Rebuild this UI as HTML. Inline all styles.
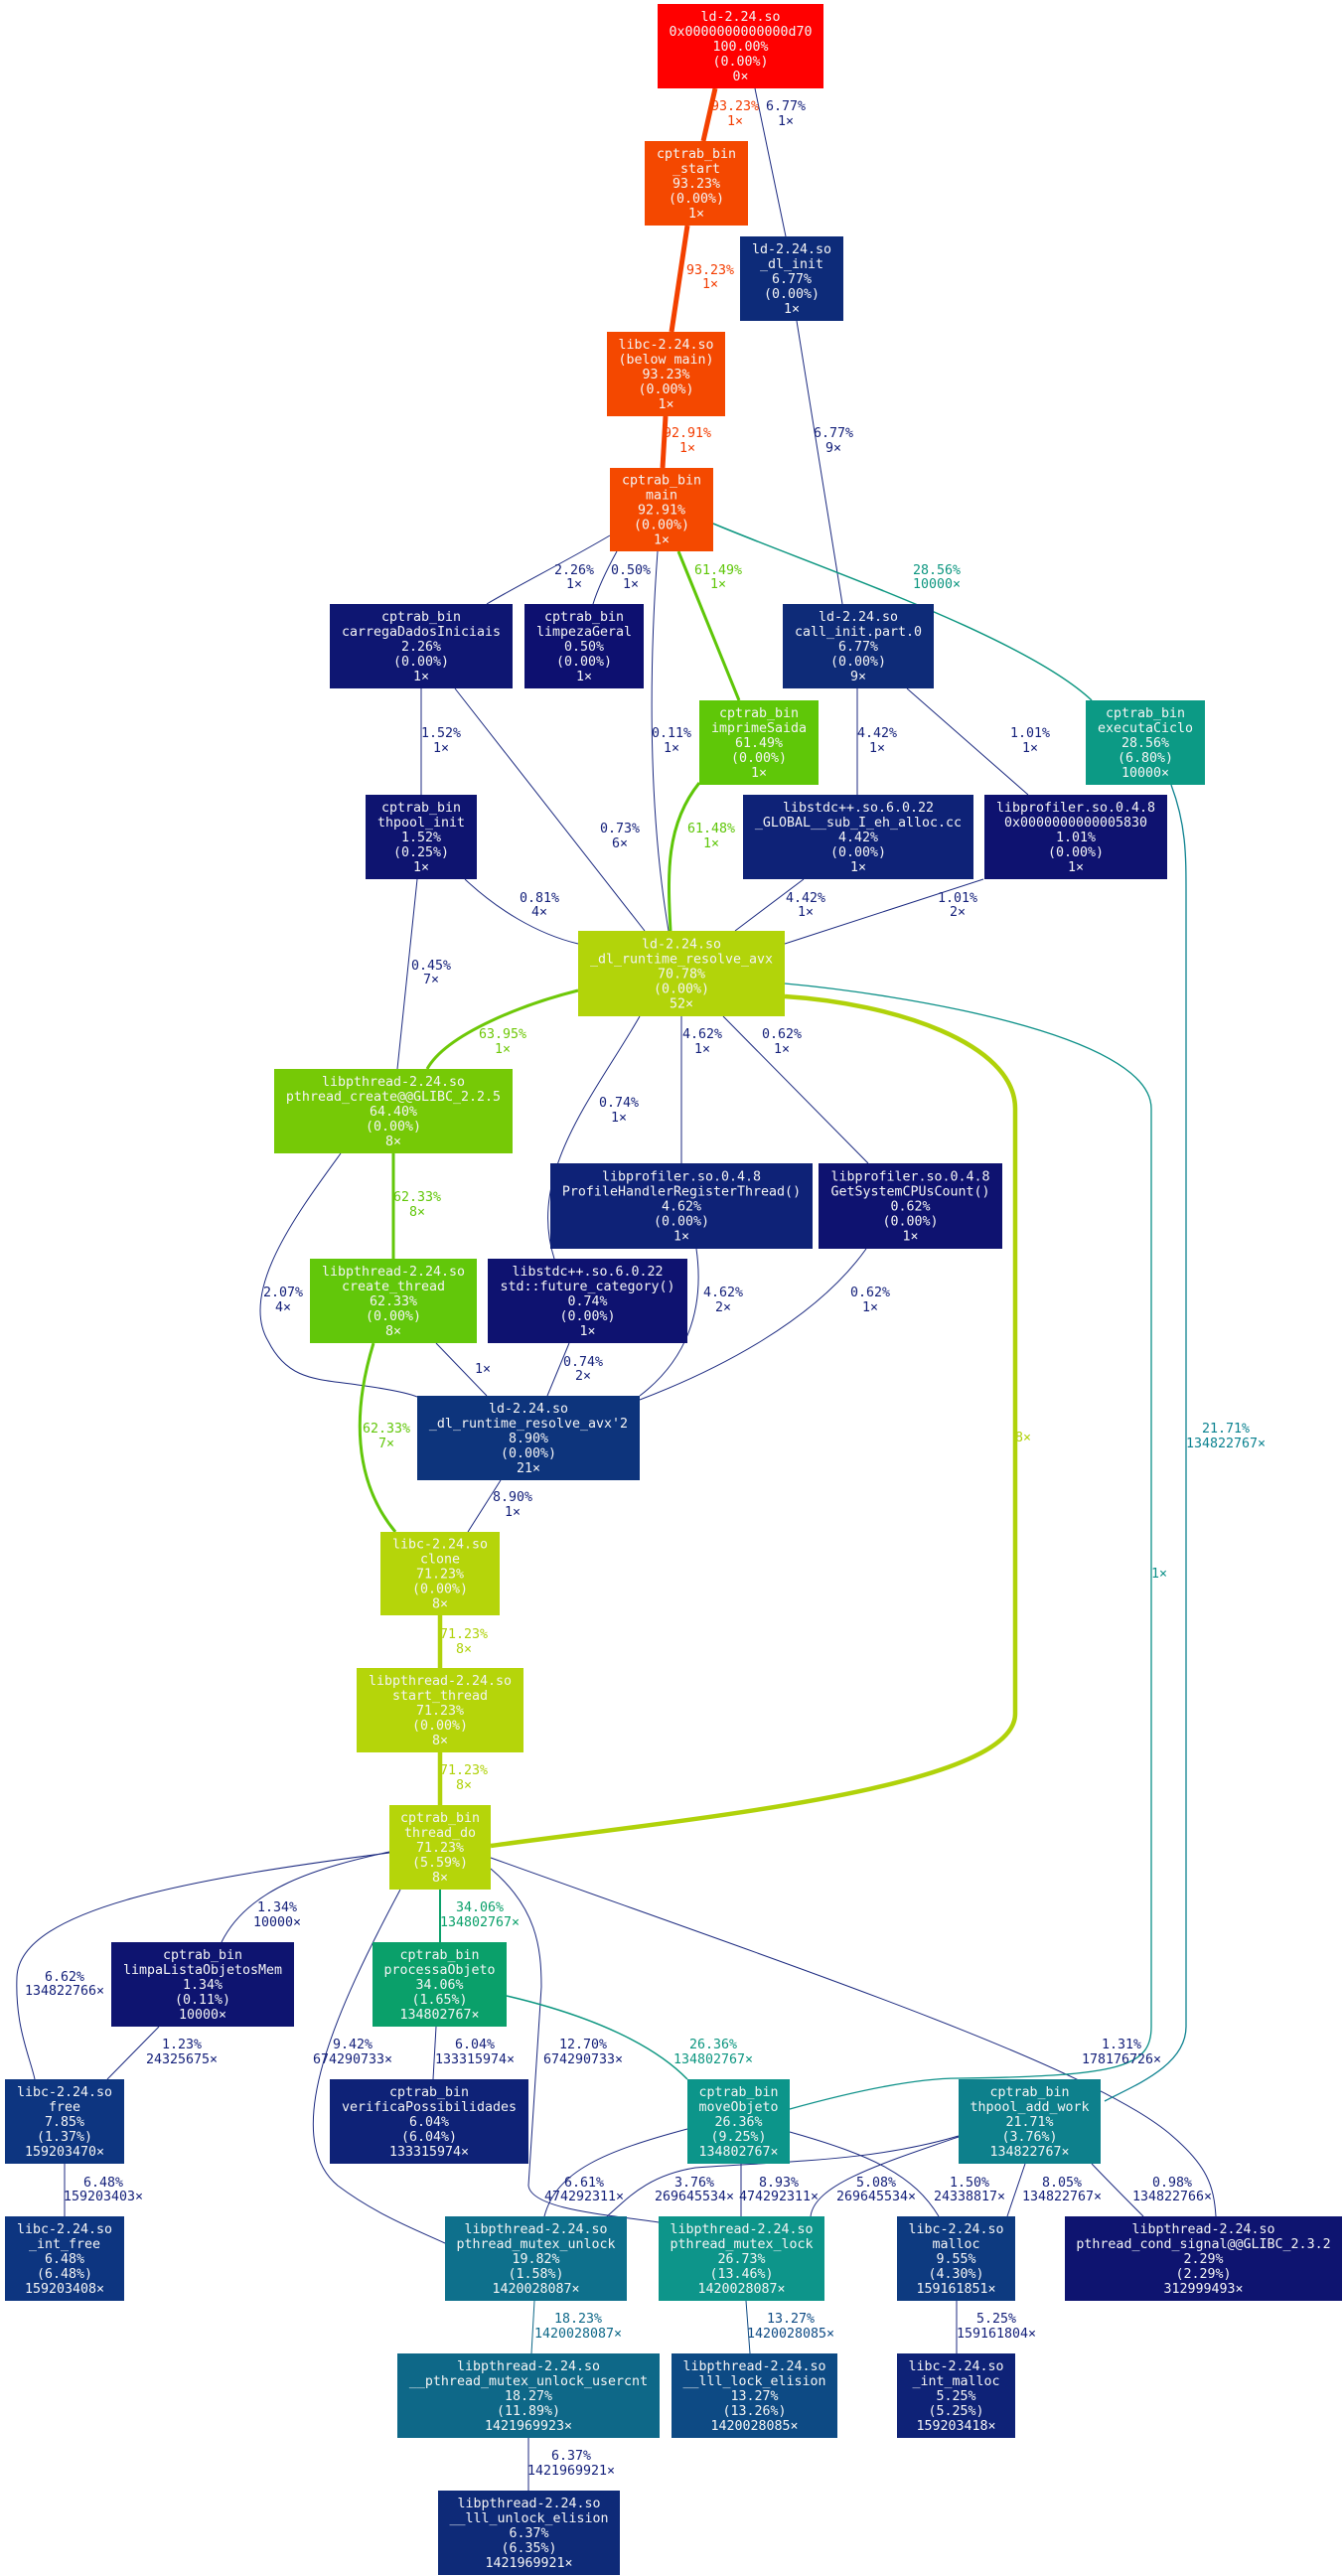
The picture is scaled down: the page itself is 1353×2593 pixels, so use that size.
<!DOCTYPE html>
<html><head><meta charset="utf-8"><style>
html,body{margin:0;padding:0;background:#fff;}
svg{display:block;}
.n{font-family:"DejaVu Sans Mono","Liberation Mono",monospace;font-size:13.3px;fill:#f4f4f4;text-anchor:middle;}
.l{font-family:"DejaVu Sans Mono","Liberation Mono",monospace;font-size:13.3px;text-anchor:middle;}
.nv{fill:#14207a}
path{fill:none;}
</style></head><body>
<svg width="1353" height="2593" viewBox="0 0 1353 2593" xmlns="http://www.w3.org/2000/svg">
<defs>
<marker id="aN" markerUnits="userSpaceOnUse" markerWidth="10" markerHeight="8" refX="9" refY="4" orient="auto"><path d="M0,0 L10,4 L0,8 z" fill="#1c2a80"/></marker>
<marker id="aO" markerUnits="userSpaceOnUse" markerWidth="16" markerHeight="14" refX="15" refY="7" orient="auto"><path d="M0,0 L16,7 L0,14 z" fill="#f34000"/></marker>
<marker id="aG" markerUnits="userSpaceOnUse" markerWidth="14" markerHeight="12" refX="13" refY="6" orient="auto"><path d="M0,0 L14,6 L0,12 z" fill="#5ec608"/></marker>
<marker id="aL" markerUnits="userSpaceOnUse" markerWidth="14" markerHeight="12" refX="13" refY="6" orient="auto"><path d="M0,0 L14,6 L0,12 z" fill="#6ec808"/></marker>
<marker id="aY" markerUnits="userSpaceOnUse" markerWidth="16" markerHeight="14" refX="15" refY="7" orient="auto"><path d="M0,0 L16,7 L0,14 z" fill="#b0d20a"/></marker>
<marker id="aT" markerUnits="userSpaceOnUse" markerWidth="11" markerHeight="9" refX="10" refY="4.5" orient="auto"><path d="M0,0 L11,4.5 L0,9 z" fill="#0c9680"/></marker>
<marker id="aC" markerUnits="userSpaceOnUse" markerWidth="11" markerHeight="9" refX="10" refY="4.5" orient="auto"><path d="M0,0 L11,4.5 L0,9 z" fill="#0d8290"/></marker>
<marker id="aP" markerUnits="userSpaceOnUse" markerWidth="11" markerHeight="9" refX="10" refY="4.5" orient="auto"><path d="M0,0 L11,4.5 L0,9 z" fill="#0aa06a"/></marker>
<marker id="aU" markerUnits="userSpaceOnUse" markerWidth="10" markerHeight="8" refX="9" refY="4" orient="auto"><path d="M0,0 L10,4 L0,8 z" fill="#0e6888"/></marker>
</defs>

<!-- edges -->
<g stroke="#1c2a80" stroke-width="1" marker-end="url(#aN)">
<path d="M760,89 L791,238"/>
<path d="M802,323 L848,608"/>
<path d="M614,539 C570,565 520,590 490,608"/>
<path d="M621,555 C610,575 602,592 597,608"/>
<path d="M662,555 C655,650 650,800 673,937"/>
<path d="M424,693 L424,800"/>
<path d="M458,693 L649,937"/>
<path d="M863,693 L863,800"/>
<path d="M913,693 L1035,800"/>
<path d="M468,885 C500,915 540,940 582,950"/>
<path d="M420,885 L400,1076"/>
<path d="M809,885 L740,937"/>
<path d="M990,885 L790,950"/>
<path d="M686,1023 L686,1171"/>
<path d="M728,1023 L874,1171"/>
<path d="M644,1023 C600,1100 530,1180 558,1267"/>
<path d="M343,1161 C300,1220 240,1300 270,1350 C290,1390 320,1388 360,1394 C390,1398 410,1402 420,1406"/>
<path d="M439,1352 L490,1405"/>
<path d="M573,1352 L551,1405"/>
<path d="M701,1257 C710,1320 690,1370 644,1405"/>
<path d="M872,1257 C820,1330 720,1380 644,1409"/>
<path d="M504,1490 L471,1542"/>
<path d="M392,1864 C320,1880 250,1900 223,1955"/>
<path d="M392,1865 C200,1890 20,1920 17,1990 C15,2040 30,2070 35,2093"/>
<path d="M403,1902 C340,2020 280,2150 340,2200 C380,2230 420,2245 448,2258"/>
<path d="M494,1881 C540,1920 545,1960 545,2000 L532,2200 C535,2225 620,2230 663,2237"/>
<path d="M494,1870 C800,1980 1100,2080 1180,2150 C1215,2180 1222,2200 1224,2231"/>
<path d="M160,2040 L108,2093"/>
<path d="M439,2040 L436,2093"/>
<path d="M65,2178 L65,2231"/>
<path d="M692,2143 C610,2165 560,2185 548,2231"/>
<path d="M746,2178 L746,2231"/>
<path d="M795,2146 C880,2170 920,2190 945,2231"/>
<path d="M965,2150 C880,2175 800,2175 700,2182 C650,2190 630,2215 611,2231"/>
<path d="M965,2151 C880,2180 820,2200 816,2231"/>
<path d="M1032,2178 L1014,2231"/>
<path d="M1099,2178 C1120,2200 1135,2215 1151,2231"/>
<path d="M751,2316 L755,2369" stroke="#0d4a84"/>
<path d="M963,2316 L963,2369"/>
<path d="M532,2454 L532,2507"/>
</g>
<path d="M538,2316 L535,2369" stroke="#0e6888" stroke-width="1" marker-end="url(#aU)"/>
<g stroke="#f34000" stroke-width="5" marker-end="url(#aO)">
<path d="M720,89 L708,142"/>
<path d="M692,227 L676,334"/>
<path d="M670,419 L667,471"/>
</g>
<path d="M683,555 L744,705" stroke="#5ec608" stroke-width="3" marker-end="url(#aG)"/>
<path d="M704,788 C670,830 672,880 675,937" stroke="#5ec608" stroke-width="3" marker-end="url(#aG)"/>
<path d="M582,997 C530,1010 450,1040 430,1076" stroke="#6ec808" stroke-width="3" marker-end="url(#aL)"/>
<path d="M396,1161 L396,1267" stroke="#62c70a" stroke-width="3" marker-end="url(#aL)"/>
<path d="M376,1352 C355,1420 355,1490 398,1542" stroke="#62c70a" stroke-width="3" marker-end="url(#aL)"/>
<g stroke="#b0d20a" stroke-width="4.5" marker-end="url(#aY)">
<path d="M443,1626 L443,1679"/>
<path d="M443,1764 L443,1817"/>
<path d="M494,1858 C700,1830 1022,1800 1022,1725 L1022,1116 C1022,1050 900,1010 790,1003"/>
</g>
<path d="M718,527 C820,570 1030,640 1099,705" stroke="#0c9680" stroke-width="1.5" marker-end="url(#aT)"/>
<path d="M1179,790 C1194,830 1194,860 1194,900 L1194,2040 C1194,2080 1140,2100 1112,2115" stroke="#0d8290" stroke-width="1.3" marker-end="url(#aC)"/>
<path d="M795,2123 C860,2105 920,2092 965,2092 C1130,2090 1159,2080 1159,2040 L1159,1116 C1159,1040 900,1000 790,990" stroke="#0c9088" stroke-width="1.3" marker-end="url(#aT)"/>
<path d="M443,1902 L443,1955" stroke="#0aa06a" stroke-width="2" marker-end="url(#aP)"/>
<path d="M510,2009 C600,2030 660,2060 692,2093" stroke="#0c9680" stroke-width="1.5" marker-end="url(#aT)"/>

<!-- edge labels -->
<g class="l">
<text fill="#f33c00"><tspan x="740" y="111">93.23%</tspan><tspan x="740" y="126">1×</tspan></text>
<text class="nv"><tspan x="791" y="111">6.77%</tspan><tspan x="791" y="126">1×</tspan></text>
<text fill="#f33c00"><tspan x="715" y="276">93.23%</tspan><tspan x="715" y="290">1×</tspan></text>
<text fill="#f33c00"><tspan x="692" y="440">92.91%</tspan><tspan x="692" y="455">1×</tspan></text>
<text class="nv"><tspan x="839" y="440">6.77%</tspan><tspan x="839" y="455">9×</tspan></text>
<text class="nv"><tspan x="578" y="578">2.26%</tspan><tspan x="578" y="592">1×</tspan></text>
<text class="nv"><tspan x="635" y="578">0.50%</tspan><tspan x="635" y="592">1×</tspan></text>
<text fill="#5ec608"><tspan x="723" y="578">61.49%</tspan><tspan x="723" y="592">1×</tspan></text>
<text fill="#0c9680"><tspan x="943" y="578">28.56%</tspan><tspan x="943" y="592">10000×</tspan></text>
<text class="nv"><tspan x="676" y="742">0.11%</tspan><tspan x="676" y="757">1×</tspan></text>
<text class="nv"><tspan x="444" y="742">1.52%</tspan><tspan x="444" y="757">1×</tspan></text>
<text class="nv"><tspan x="624" y="838">0.73%</tspan><tspan x="624" y="853">6×</tspan></text>
<text fill="#5ec608"><tspan x="716" y="838">61.48%</tspan><tspan x="716" y="853">1×</tspan></text>
<text class="nv"><tspan x="883" y="742">4.42%</tspan><tspan x="883" y="757">1×</tspan></text>
<text class="nv"><tspan x="1037" y="742">1.01%</tspan><tspan x="1037" y="757">1×</tspan></text>
<text class="nv"><tspan x="543" y="908">0.81%</tspan><tspan x="543" y="922">4×</tspan></text>
<text class="nv"><tspan x="811" y="908">4.42%</tspan><tspan x="811" y="922">1×</tspan></text>
<text class="nv"><tspan x="964" y="908">1.01%</tspan><tspan x="964" y="922">2×</tspan></text>
<text class="nv"><tspan x="434" y="976">0.45%</tspan><tspan x="434" y="990">7×</tspan></text>
<text fill="#6ec808"><tspan x="506" y="1045">63.95%</tspan><tspan x="506" y="1060">1×</tspan></text>
<text class="nv"><tspan x="707" y="1045">4.62%</tspan><tspan x="707" y="1060">1×</tspan></text>
<text class="nv"><tspan x="787" y="1045">0.62%</tspan><tspan x="787" y="1060">1×</tspan></text>
<text class="nv"><tspan x="623" y="1114">0.74%</tspan><tspan x="623" y="1129">1×</tspan></text>
<text fill="#62c70a"><tspan x="420" y="1209">62.33%</tspan><tspan x="420" y="1224">8×</tspan></text>
<text class="nv"><tspan x="285" y="1305">2.07%</tspan><tspan x="285" y="1320">4×</tspan></text>
<text class="nv"><tspan x="728" y="1305">4.62%</tspan><tspan x="728" y="1320">2×</tspan></text>
<text class="nv"><tspan x="876" y="1305">0.62%</tspan><tspan x="876" y="1320">1×</tspan></text>
<text class="nv"><tspan x="486" y="1382">1×</tspan></text>
<text class="nv"><tspan x="587" y="1375">0.74%</tspan><tspan x="587" y="1389">2×</tspan></text>
<text fill="#62c70a"><tspan x="389" y="1442">62.33%</tspan><tspan x="389" y="1457">7×</tspan></text>
<text fill="#0b8290"><tspan x="1234" y="1442">21.71%</tspan><tspan x="1234" y="1457">134822767×</tspan></text>
<text fill="#b0d20a"><tspan x="1030" y="1451">8×</tspan></text>
<text fill="#0c9088"><tspan x="1167" y="1588">1×</tspan></text>
<text class="nv"><tspan x="516" y="1511">8.90%</tspan><tspan x="516" y="1526">1×</tspan></text>
<text fill="#b0d20a"><tspan x="467" y="1649">71.23%</tspan><tspan x="467" y="1664">8×</tspan></text>
<text fill="#b0d20a"><tspan x="467" y="1786">71.23%</tspan><tspan x="467" y="1801">8×</tspan></text>
<text class="nv"><tspan x="279" y="1924">1.34%</tspan><tspan x="279" y="1939">10000×</tspan></text>
<text fill="#0aa06a"><tspan x="483" y="1924">34.06%</tspan><tspan x="483" y="1939">134802767×</tspan></text>
<text class="nv"><tspan x="65" y="1994">6.62%</tspan><tspan x="65" y="2008">134822766×</tspan></text>
<text class="nv"><tspan x="183" y="2062">1.23%</tspan><tspan x="183" y="2077">24325675×</tspan></text>
<text class="nv"><tspan x="355" y="2062">9.42%</tspan><tspan x="355" y="2077">674290733×</tspan></text>
<text class="nv"><tspan x="478" y="2062">6.04%</tspan><tspan x="478" y="2077">133315974×</tspan></text>
<text class="nv"><tspan x="587" y="2062">12.70%</tspan><tspan x="587" y="2077">674290733×</tspan></text>
<text fill="#0c9680"><tspan x="718" y="2062">26.36%</tspan><tspan x="718" y="2077">134802767×</tspan></text>
<text class="nv"><tspan x="1129" y="2062">1.31%</tspan><tspan x="1129" y="2077">178176726×</tspan></text>
<text class="nv"><tspan x="104" y="2201">6.48%</tspan><tspan x="104" y="2215">159203403×</tspan></text>
<text class="nv"><tspan x="588" y="2201">6.61%</tspan><tspan x="588" y="2215">474292311×</tspan></text>
<text class="nv"><tspan x="699" y="2201">3.76%</tspan><tspan x="699" y="2215">269645534×</tspan></text>
<text class="nv"><tspan x="784" y="2201">8.93%</tspan><tspan x="784" y="2215">474292311×</tspan></text>
<text class="nv"><tspan x="882" y="2201">5.08%</tspan><tspan x="882" y="2215">269645534×</tspan></text>
<text class="nv"><tspan x="976" y="2201">1.50%</tspan><tspan x="976" y="2215">24338817×</tspan></text>
<text class="nv"><tspan x="1069" y="2201">8.05%</tspan><tspan x="1069" y="2215">134822767×</tspan></text>
<text class="nv"><tspan x="1180" y="2201">0.98%</tspan><tspan x="1180" y="2215">134822766×</tspan></text>
<text fill="#0e6888"><tspan x="582" y="2338">18.23%</tspan><tspan x="582" y="2353">1420028087×</tspan></text>
<text fill="#0d4a84"><tspan x="796" y="2338">13.27%</tspan><tspan x="796" y="2353">1420028085×</tspan></text>
<text class="nv"><tspan x="1003" y="2338">5.25%</tspan><tspan x="1003" y="2353">159161804×</tspan></text>
<text class="nv"><tspan x="575" y="2476">6.37%</tspan><tspan x="575" y="2491">1421969921×</tspan></text>
</g>

<!-- nodes -->
<g>
<rect x="662" y="4" width="167" height="85" fill="#ff0000"/>
<rect x="649" y="142" width="104" height="85" fill="#f44800"/>
<rect x="745" y="238" width="104" height="85" fill="#0d2b79"/>
<rect x="611" y="334" width="119" height="85" fill="#f44800"/>
<rect x="614" y="471" width="104" height="84" fill="#f44900"/>
<rect x="332" y="608" width="184" height="85" fill="#0e1672"/>
<rect x="528" y="608" width="120" height="85" fill="#0d1070"/>
<rect x="788" y="608" width="152" height="85" fill="#0e2b78"/>
<rect x="704" y="705" width="120" height="85" fill="#5fc708"/>
<rect x="1093" y="705" width="120" height="85" fill="#0c9a85"/>
<rect x="368" y="800" width="112" height="85" fill="#0e1470"/>
<rect x="748" y="800" width="232" height="85" fill="#0e2277"/>
<rect x="991" y="800" width="184" height="85" fill="#0e1270"/>
<rect x="582" y="937" width="208" height="86" fill="#b2d40a"/>
<rect x="276" y="1076" width="240" height="85" fill="#76c906"/>
<rect x="554" y="1171" width="264" height="86" fill="#0e2277"/>
<rect x="824" y="1171" width="185" height="86" fill="#0e1270"/>
<rect x="312" y="1267" width="168" height="85" fill="#62c70a"/>
<rect x="491" y="1267" width="201" height="85" fill="#0e1270"/>
<rect x="420" y="1405" width="224" height="85" fill="#0d347c"/>
<rect x="383" y="1542" width="120" height="84" fill="#b5d50a"/>
<rect x="359" y="1679" width="168" height="85" fill="#b5d50a"/>
<rect x="392" y="1817" width="102" height="85" fill="#b5d50a"/>
<rect x="112" y="1955" width="184" height="85" fill="#0e1470"/>
<rect x="375" y="1955" width="135" height="85" fill="#0aa06a"/>
<rect x="5" y="2093" width="120" height="85" fill="#0d3580"/>
<rect x="332" y="2093" width="200" height="85" fill="#0e2277"/>
<rect x="692" y="2093" width="103" height="85" fill="#0c958a"/>
<rect x="965" y="2093" width="143" height="85" fill="#0d808c"/>
<rect x="5" y="2231" width="120" height="85" fill="#0d3580"/>
<rect x="448" y="2231" width="183" height="85" fill="#0e708c"/>
<rect x="663" y="2231" width="167" height="85" fill="#0d958a"/>
<rect x="903" y="2231" width="119" height="85" fill="#0d3a80"/>
<rect x="1072" y="2231" width="279" height="85" fill="#0e1470"/>
<rect x="400" y="2369" width="264" height="85" fill="#0e6888"/>
<rect x="676" y="2369" width="167" height="85" fill="#0d4a84"/>
<rect x="903" y="2369" width="119" height="85" fill="#0e2277"/>
<rect x="441" y="2507" width="183" height="85" fill="#0e2a78"/>
</g>

<g class="n">
<text><tspan x="745.5" y="21">ld-2.24.so</tspan><tspan x="745.5" dy="15">0x0000000000000d70</tspan><tspan x="745.5" dy="15">100.00%</tspan><tspan x="745.5" dy="15">(0.00%)</tspan><tspan x="745.5" dy="15">0×</tspan></text>
<text><tspan x="701" y="159">cptrab_bin</tspan><tspan x="701" dy="15">_start</tspan><tspan x="701" dy="15">93.23%</tspan><tspan x="701" dy="15">(0.00%)</tspan><tspan x="701" dy="15">1×</tspan></text>
<text><tspan x="797" y="255">ld-2.24.so</tspan><tspan x="797" dy="15">_dl_init</tspan><tspan x="797" dy="15">6.77%</tspan><tspan x="797" dy="15">(0.00%)</tspan><tspan x="797" dy="15">1×</tspan></text>
<text><tspan x="670.5" y="351">libc-2.24.so</tspan><tspan x="670.5" dy="15">(below main)</tspan><tspan x="670.5" dy="15">93.23%</tspan><tspan x="670.5" dy="15">(0.00%)</tspan><tspan x="670.5" dy="15">1×</tspan></text>
<text><tspan x="666" y="487.5">cptrab_bin</tspan><tspan x="666" dy="15">main</tspan><tspan x="666" dy="15">92.91%</tspan><tspan x="666" dy="15">(0.00%)</tspan><tspan x="666" dy="15">1×</tspan></text>
<text><tspan x="424" y="625">cptrab_bin</tspan><tspan x="424" dy="15">carregaDadosIniciais</tspan><tspan x="424" dy="15">2.26%</tspan><tspan x="424" dy="15">(0.00%)</tspan><tspan x="424" dy="15">1×</tspan></text>
<text><tspan x="588" y="625">cptrab_bin</tspan><tspan x="588" dy="15">limpezaGeral</tspan><tspan x="588" dy="15">0.50%</tspan><tspan x="588" dy="15">(0.00%)</tspan><tspan x="588" dy="15">1×</tspan></text>
<text><tspan x="864" y="625">ld-2.24.so</tspan><tspan x="864" dy="15">call_init.part.0</tspan><tspan x="864" dy="15">6.77%</tspan><tspan x="864" dy="15">(0.00%)</tspan><tspan x="864" dy="15">9×</tspan></text>
<text><tspan x="764" y="722">cptrab_bin</tspan><tspan x="764" dy="15">imprimeSaida</tspan><tspan x="764" dy="15">61.49%</tspan><tspan x="764" dy="15">(0.00%)</tspan><tspan x="764" dy="15">1×</tspan></text>
<text><tspan x="1153" y="722">cptrab_bin</tspan><tspan x="1153" dy="15">executaCiclo</tspan><tspan x="1153" dy="15">28.56%</tspan><tspan x="1153" dy="15">(6.80%)</tspan><tspan x="1153" dy="15">10000×</tspan></text>
<text><tspan x="424" y="817">cptrab_bin</tspan><tspan x="424" dy="15">thpool_init</tspan><tspan x="424" dy="15">1.52%</tspan><tspan x="424" dy="15">(0.25%)</tspan><tspan x="424" dy="15">1×</tspan></text>
<text><tspan x="864" y="817">libstdc++.so.6.0.22</tspan><tspan x="864" dy="15">_GLOBAL__sub_I_eh_alloc.cc</tspan><tspan x="864" dy="15">4.42%</tspan><tspan x="864" dy="15">(0.00%)</tspan><tspan x="864" dy="15">1×</tspan></text>
<text><tspan x="1083" y="817">libprofiler.so.0.4.8</tspan><tspan x="1083" dy="15">0x0000000000005830</tspan><tspan x="1083" dy="15">1.01%</tspan><tspan x="1083" dy="15">(0.00%)</tspan><tspan x="1083" dy="15">1×</tspan></text>
<text><tspan x="686" y="954.5">ld-2.24.so</tspan><tspan x="686" dy="15">_dl_runtime_resolve_avx</tspan><tspan x="686" dy="15">70.78%</tspan><tspan x="686" dy="15">(0.00%)</tspan><tspan x="686" dy="15">52×</tspan></text>
<text><tspan x="396" y="1093">libpthread-2.24.so</tspan><tspan x="396" dy="15">pthread_create@@GLIBC_2.2.5</tspan><tspan x="396" dy="15">64.40%</tspan><tspan x="396" dy="15">(0.00%)</tspan><tspan x="396" dy="15">8×</tspan></text>
<text><tspan x="686" y="1188.5">libprofiler.so.0.4.8</tspan><tspan x="686" dy="15">ProfileHandlerRegisterThread()</tspan><tspan x="686" dy="15">4.62%</tspan><tspan x="686" dy="15">(0.00%)</tspan><tspan x="686" dy="15">1×</tspan></text>
<text><tspan x="916.5" y="1188.5">libprofiler.so.0.4.8</tspan><tspan x="916.5" dy="15">GetSystemCPUsCount()</tspan><tspan x="916.5" dy="15">0.62%</tspan><tspan x="916.5" dy="15">(0.00%)</tspan><tspan x="916.5" dy="15">1×</tspan></text>
<text><tspan x="396" y="1284">libpthread-2.24.so</tspan><tspan x="396" dy="15">create_thread</tspan><tspan x="396" dy="15">62.33%</tspan><tspan x="396" dy="15">(0.00%)</tspan><tspan x="396" dy="15">8×</tspan></text>
<text><tspan x="591.5" y="1284">libstdc++.so.6.0.22</tspan><tspan x="591.5" dy="15">std::future_category()</tspan><tspan x="591.5" dy="15">0.74%</tspan><tspan x="591.5" dy="15">(0.00%)</tspan><tspan x="591.5" dy="15">1×</tspan></text>
<text><tspan x="532" y="1422">ld-2.24.so</tspan><tspan x="532" dy="15">_dl_runtime_resolve_avx'2</tspan><tspan x="532" dy="15">8.90%</tspan><tspan x="532" dy="15">(0.00%)</tspan><tspan x="532" dy="15">21×</tspan></text>
<text><tspan x="443" y="1558.5">libc-2.24.so</tspan><tspan x="443" dy="15">clone</tspan><tspan x="443" dy="15">71.23%</tspan><tspan x="443" dy="15">(0.00%)</tspan><tspan x="443" dy="15">8×</tspan></text>
<text><tspan x="443" y="1696">libpthread-2.24.so</tspan><tspan x="443" dy="15">start_thread</tspan><tspan x="443" dy="15">71.23%</tspan><tspan x="443" dy="15">(0.00%)</tspan><tspan x="443" dy="15">8×</tspan></text>
<text><tspan x="443" y="1834">cptrab_bin</tspan><tspan x="443" dy="15">thread_do</tspan><tspan x="443" dy="15">71.23%</tspan><tspan x="443" dy="15">(5.59%)</tspan><tspan x="443" dy="15">8×</tspan></text>
<text><tspan x="204" y="1972">cptrab_bin</tspan><tspan x="204" dy="15">limpaListaObjetosMem</tspan><tspan x="204" dy="15">1.34%</tspan><tspan x="204" dy="15">(0.11%)</tspan><tspan x="204" dy="15">10000×</tspan></text>
<text><tspan x="442.5" y="1972">cptrab_bin</tspan><tspan x="442.5" dy="15">processaObjeto</tspan><tspan x="442.5" dy="15">34.06%</tspan><tspan x="442.5" dy="15">(1.65%)</tspan><tspan x="442.5" dy="15">134802767×</tspan></text>
<text><tspan x="65" y="2110">libc-2.24.so</tspan><tspan x="65" dy="15">free</tspan><tspan x="65" dy="15">7.85%</tspan><tspan x="65" dy="15">(1.37%)</tspan><tspan x="65" dy="15">159203470×</tspan></text>
<text><tspan x="432" y="2110">cptrab_bin</tspan><tspan x="432" dy="15">verificaPossibilidades</tspan><tspan x="432" dy="15">6.04%</tspan><tspan x="432" dy="15">(6.04%)</tspan><tspan x="432" dy="15">133315974×</tspan></text>
<text><tspan x="743.5" y="2110">cptrab_bin</tspan><tspan x="743.5" dy="15">moveObjeto</tspan><tspan x="743.5" dy="15">26.36%</tspan><tspan x="743.5" dy="15">(9.25%)</tspan><tspan x="743.5" dy="15">134802767×</tspan></text>
<text><tspan x="1036.5" y="2110">cptrab_bin</tspan><tspan x="1036.5" dy="15">thpool_add_work</tspan><tspan x="1036.5" dy="15">21.71%</tspan><tspan x="1036.5" dy="15">(3.76%)</tspan><tspan x="1036.5" dy="15">134822767×</tspan></text>
<text><tspan x="65" y="2248">libc-2.24.so</tspan><tspan x="65" dy="15">_int_free</tspan><tspan x="65" dy="15">6.48%</tspan><tspan x="65" dy="15">(6.48%)</tspan><tspan x="65" dy="15">159203408×</tspan></text>
<text><tspan x="539.5" y="2248">libpthread-2.24.so</tspan><tspan x="539.5" dy="15">pthread_mutex_unlock</tspan><tspan x="539.5" dy="15">19.82%</tspan><tspan x="539.5" dy="15">(1.58%)</tspan><tspan x="539.5" dy="15">1420028087×</tspan></text>
<text><tspan x="746.5" y="2248">libpthread-2.24.so</tspan><tspan x="746.5" dy="15">pthread_mutex_lock</tspan><tspan x="746.5" dy="15">26.73%</tspan><tspan x="746.5" dy="15">(13.46%)</tspan><tspan x="746.5" dy="15">1420028087×</tspan></text>
<text><tspan x="962.5" y="2248">libc-2.24.so</tspan><tspan x="962.5" dy="15">malloc</tspan><tspan x="962.5" dy="15">9.55%</tspan><tspan x="962.5" dy="15">(4.30%)</tspan><tspan x="962.5" dy="15">159161851×</tspan></text>
<text><tspan x="1211.5" y="2248">libpthread-2.24.so</tspan><tspan x="1211.5" dy="15">pthread_cond_signal@@GLIBC_2.3.2</tspan><tspan x="1211.5" dy="15">2.29%</tspan><tspan x="1211.5" dy="15">(2.29%)</tspan><tspan x="1211.5" dy="15">312999493×</tspan></text>
<text><tspan x="532" y="2386">libpthread-2.24.so</tspan><tspan x="532" dy="15">__pthread_mutex_unlock_usercnt</tspan><tspan x="532" dy="15">18.27%</tspan><tspan x="532" dy="15">(11.89%)</tspan><tspan x="532" dy="15">1421969923×</tspan></text>
<text><tspan x="759.5" y="2386">libpthread-2.24.so</tspan><tspan x="759.5" dy="15">__lll_lock_elision</tspan><tspan x="759.5" dy="15">13.27%</tspan><tspan x="759.5" dy="15">(13.26%)</tspan><tspan x="759.5" dy="15">1420028085×</tspan></text>
<text><tspan x="962.5" y="2386">libc-2.24.so</tspan><tspan x="962.5" dy="15">_int_malloc</tspan><tspan x="962.5" dy="15">5.25%</tspan><tspan x="962.5" dy="15">(5.25%)</tspan><tspan x="962.5" dy="15">159203418×</tspan></text>
<text><tspan x="532.5" y="2524">libpthread-2.24.so</tspan><tspan x="532.5" dy="15">__lll_unlock_elision</tspan><tspan x="532.5" dy="15">6.37%</tspan><tspan x="532.5" dy="15">(6.35%)</tspan><tspan x="532.5" dy="15">1421969921×</tspan></text>
</g>
</svg>
</body></html>
